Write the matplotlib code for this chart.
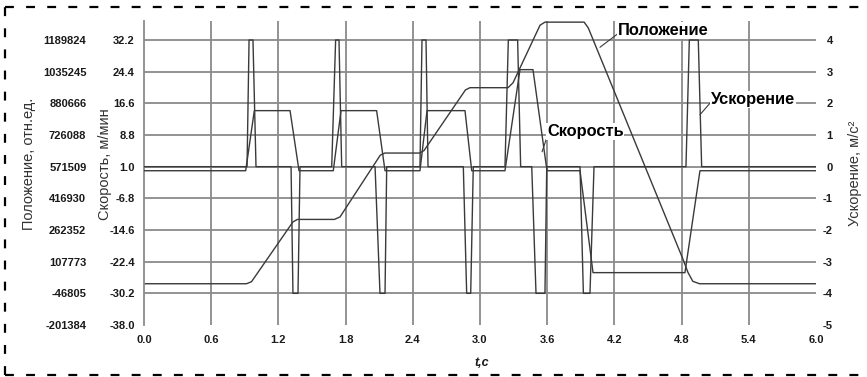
import matplotlib
matplotlib.use('Agg')
import matplotlib.pyplot as plt
from matplotlib.lines import Line2D

FIG_W, FIG_H, DPI = 8.67, 3.77, 100
GRID_COLOR = '#8a8a8a'
LINE_COLOR = '#3a3a3a'
TEXT_COLOR = '#1a1a1a'

# time, s
X_TICKS = [0.0, 0.6, 1.2, 1.8, 2.4, 3.0, 3.6, 4.2, 4.8, 5.4, 6.0]

# left axis (outer): position, rel. units
POS_TICKS = [-201384, -46805, 107773, 262352, 416930, 571509, 726088, 880666, 1035245, 1189824]
# left axis (inner): speed, m/min
SPD_TICKS = [-38.0, -30.2, -22.4, -14.6, -6.8, 1.0, 8.8, 16.6, 24.4, 32.2]
# right axis: acceleration, m/s^2
ACC_TICKS = [-5, -4, -3, -2, -1, 0, 1, 2, 3, 4]
ACC_TOP = 4.6

# acceleration
T_ACC = [0.0,
	0.920, 0.938, 0.973, 1.000,
	1.313, 1.330, 1.375, 1.393,
	1.676, 1.711, 1.741, 1.765,
	2.063, 2.107, 2.152, 2.167,
	2.464, 2.482, 2.518, 2.536,
	2.851, 2.881, 2.917, 2.940,
	3.223, 3.253, 3.336, 3.363,
	3.462, 3.500, 3.580, 3.596,
	3.893, 3.923, 3.982, 4.018,
	4.839, 4.869, 4.949, 4.979,
	6.0]
ACC = [0,
	0, 4, 4, 0,
	0, -4, -4, 0,
	0, 4, 4, 0,
	0, -4, -4, 0,
	0, 4, 4, 0,
	0, -4, -4, 0,
	0, 4, 4, 0,
	0, -4, -4, 0,
	0, -4, -4, 0,
	0, 4, 4, 0,
	0]

# speed
T_SPD = [0.0, 0.908, 0.985, 1.304, 1.384,
	1.690, 1.759, 2.077, 2.152,
	2.464, 2.527, 2.866, 2.926,
	3.223, 3.357, 3.473, 3.598,
	3.893, 4.009, 4.830, 4.964, 6.0]
SPD = [0.0, 0.0, 14.8, 14.8, 0.0,
	0.0, 14.8, 14.8, 0.0,
	0.0, 14.8, 14.8, 0.0,
	0.0, 24.9, 24.9, 0.0,
	0.0, -25.1, -25.1, 0.0, 0.0]

# position
T_POS = [0.0, 0.915, 0.96, 1.33, 1.37,
	1.70, 1.75, 2.11, 2.15,
	2.46, 2.50, 2.87, 2.91,
	3.25, 3.295, 3.536, 3.58,
	3.93, 3.967, 4.8125, 4.857, 4.90, 4.96, 6.0]
POS = [0, 0, 10000, 302000, 314000,
	314000, 326000, 628000, 638000,
	638000, 650000, 946000, 957000,
	957000, 981000, 1262000, 1277000,
	1277000, 1248500, 119400, 55000, 12000, 0, 0]


def scaled_lim(ticks):
	# same pixel scale for all three y axes
	step = (ticks[-1] - ticks[0]) / (ACC_TICKS[-1] - ACC_TICKS[0])
	return ticks[0], ticks[0] + step * (ACC_TOP - ACC_TICKS[0])


def draw_border(fig):
	w, h = FIG_W * DPI, FIG_H * DPI
	x0, x1 = 5 / w, 862 / w
	y0, y1 = 1 - 375 / h, 1 - 7 / h
	style = dict(transform=fig.transFigure, color='black', lw=1.6, linestyle=(0, (4, 5.5)))
	fig.add_artist(Line2D([x0, x1], [y1, y1], **style))
	fig.add_artist(Line2D([x0, x1], [y0, y0], **style))
	fig.add_artist(Line2D([x0, x0], [y0, y1], **style))


def plot():
	plt.rcParams['font.family'] = ['Liberation Sans', 'DejaVu Sans']
	fig = plt.figure(figsize=(FIG_W, FIG_H), dpi=DPI)
	ax_pos = fig.add_axes([144 / 867, 1 - 325 / 377, 672 / 867, 304 / 377])
	ax_spd = ax_pos.twinx()
	ax_acc = ax_pos.twinx()

	ax_pos.set_xlim(X_TICKS[0], X_TICKS[-1])
	ax_pos.set_ylim(*scaled_lim(POS_TICKS))
	ax_spd.set_ylim(*scaled_lim(SPD_TICKS))
	ax_acc.set_ylim(ACC_TICKS[0], ACC_TOP)

	# grid
	for x in X_TICKS[1:-1]:
		ax_pos.axvline(x, color=GRID_COLOR, lw=1.3, zorder=1)
	for y in POS_TICKS[1:]:
		ax_pos.axhline(y, color=GRID_COLOR, lw=1.3, zorder=1)

	ax_pos.plot(T_POS, POS, color=LINE_COLOR, lw=1.0, zorder=2)
	ax_spd.plot(T_SPD, SPD, color=LINE_COLOR, lw=1.0)
	ax_acc.plot(T_ACC, ACC, color=LINE_COLOR, lw=1.0)

	for ax in (ax_pos, ax_spd, ax_acc):
		for side in ('top', 'right', 'bottom', 'left'):
			ax.spines[side].set_visible(False)
	ax_pos.spines['left'].set_visible(True)
	ax_pos.spines['left'].set_color(GRID_COLOR)
	ax_pos.spines['left'].set_linewidth(1.3)

	tick_font = dict(fontsize=8, fontweight='bold', color=TEXT_COLOR)
	ax_pos.set_xticks(X_TICKS)
	ax_pos.set_xticklabels(['%.1f' % v for v in X_TICKS], **tick_font)
	ax_pos.tick_params(axis='x', length=0, pad=7)

	ax_pos.set_yticks(POS_TICKS)
	ax_pos.set_yticklabels([str(v) for v in POS_TICKS], **tick_font)
	ax_pos.tick_params(axis='y', length=0, pad=41.5)

	ax_spd.yaxis.tick_left()
	ax_spd.set_yticks(SPD_TICKS)
	ax_spd.set_yticklabels(['%.1f' % v for v in SPD_TICKS], **tick_font)
	ax_spd.tick_params(axis='y', length=0, pad=6.5)

	ax_acc.set_yticks(ACC_TICKS)
	ax_acc.set_yticklabels([str(v) for v in ACC_TICKS], **tick_font)
	ax_acc.tick_params(axis='y', length=0, pad=12)
	for label in ax_acc.get_yticklabels():
		label.set_horizontalalignment('right')

	label_font = dict(fontsize=10.5, color='#333333')
	ax_pos.set_ylabel('Положение, отн.ед.', **label_font)
	ax_pos.yaxis.set_label_coords(-0.160, 0.53)
	ax_spd.yaxis.set_label_position('left')
	ax_spd.set_ylabel('Скорость, м/мин', **label_font)
	ax_spd.yaxis.set_label_coords(-0.048, 0.53)
	ax_acc.set_ylabel('Ускорение, м/с²', **label_font)
	ax_acc.yaxis.set_label_coords(1.047, 0.50)
	ax_pos.set_xlabel('t,c', fontsize=9, fontweight='bold', fontstyle='italic', color=TEXT_COLOR)
	ax_pos.xaxis.set_label_coords(0.502, -0.105)

	note = dict(fontsize=11.8, fontweight='bold', color='black', ha='center', va='center',
		bbox=dict(boxstyle='square,pad=0.05', fc='white', ec='none'))
	leader = dict(arrowstyle='-', color=LINE_COLOR, lw=0.8, shrinkA=0, shrinkB=0)
	ax_acc.annotate('Положение', xy=(4.071, 3.77), xytext=(4.634, 4.29),
		arrowprops=dict(leader, relpos=(0, 0.3)), **note)
	ax_acc.annotate('Скорость', xy=(3.554, 0.47), xytext=(3.94, 1.12),
		arrowprops=dict(leader, relpos=(0, 0.1)), **note)
	ax_acc.annotate('Ускорение', xy=(4.964, 1.64), xytext=(5.44, 2.12),
		arrowprops=dict(leader, relpos=(0, 0.35)), **note)

	draw_border(fig)
	fig.savefig('out.png', dpi=DPI)


if __name__ == '__main__':
	plot()
